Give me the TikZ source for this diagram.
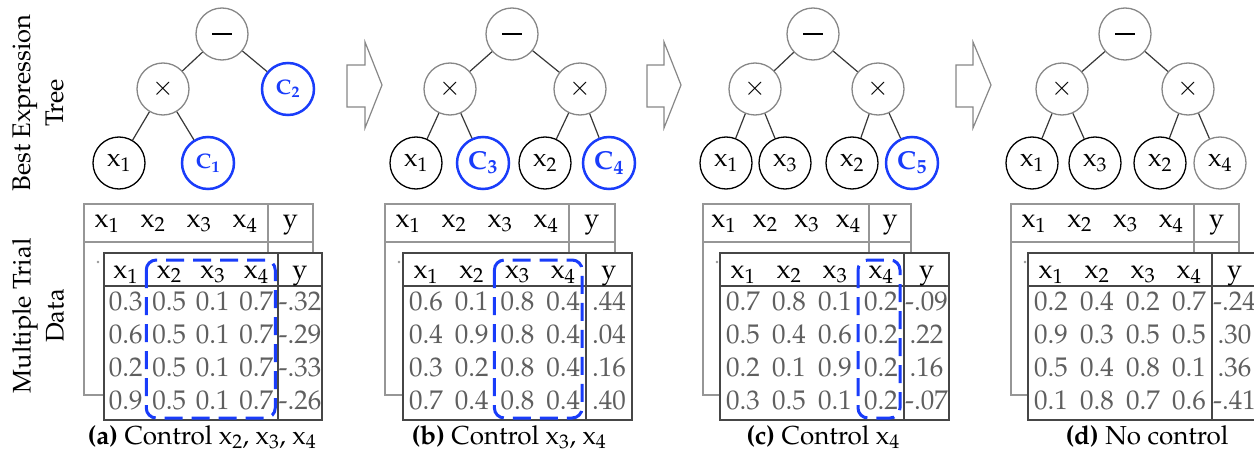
\documentclass[tikz,border=0pt]{standalone}
\usepackage[T1]{fontenc}
\usepackage{mathpazo}
\usepackage{xcolor}

\definecolor{ctrlblue}{RGB}{25,60,250}
\definecolor{opgray}{RGB}{135,135,135}
\definecolor{valgray}{RGB}{95,95,95}
\definecolor{backline}{RGB}{150,150,150}
\definecolor{frontline}{RGB}{70,70,70}
\definecolor{edgecol}{RGB}{55,55,55}

\newcommand\bigfont{\fontsize{26}{30}\selectfont}
\newcommand\cellfont{\fontsize{27}{30}\selectfont}
\newcommand\smallctrl{\fontsize{21}{24}\selectfont}
\newcommand\minusbar{\rule{20pt}{2.6pt}}

\tikzset{
  treenode/.style={circle, minimum size=52pt, inner sep=0pt, line width=1.3pt, font=\bigfont},
  opnode/.style={treenode, draw=opgray},
  varnode/.style={treenode, draw=black},
  greyvar/.style={treenode, draw=opgray},
  ctrlnode/.style={treenode, draw=ctrlblue, line width=2.5pt, text=ctrlblue},
  edge/.style={draw=edgecol, line width=1.2pt},
  hcell/.style={anchor=base, inner sep=0pt, font=\cellfont},
  valcell/.style={hcell, text=valgray},
  backsheet/.style={draw=backline, line width=1.5pt},
  frontsheet/.style={draw=frontline, line width=2pt},
  ctrlbox/.style={draw=ctrlblue, line width=3pt, rounded corners=10pt, dash pattern=on 18pt off 9pt},
  stepshape/.style={draw=opgray, fill=white, line width=1.2pt, line join=miter},
  sidelabel/.style={rotate=90, align=center, font=\fontsize{25.5}{33}\selectfont},
  caption/.style={anchor=base, inner sep=0pt, font=\bigfont},
}

% #1 id, #2-#4 back sheet left/divider/right, #5-#7 front sheet left/divider/right,
% #8 data rows, #9 first/last controlled column (0/0 for none)
\newcommand\trialtable[9]{%
  % back sheet
  \draw[backsheet] (#2,204) rectangle (#4,395);
  \draw[backsheet] (#2,242) -- (#4,242);
  \draw[backsheet] (#3,204) -- (#3,395);
  \fill[backline] (#2+14,262) circle (1.3pt);
  \foreach \k in {1,...,4}{
    \node[hcell] (#1-bh\k) at ({#2+(#3-#2)*(2*\k-1)/8},227) {$\mathrm{x}_{\k}$};
  }
  \node[hcell] (#1-by) at ({(#3+#4)/2},227) {y};
  % front sheet
  \filldraw[frontsheet, fill=white] (#5,253) rectangle (#7,420);
  \draw[frontsheet] (#5,286) -- (#7,286);
  \draw[frontsheet] (#6,253) -- (#6,420);
  \foreach \k in {1,...,4}{
    \node[hcell] (#1-fh\k) at ({#5+(#6-#5)*(2*\k-1)/8},278) {$\mathrm{x}_{\k}$};
  }
  \node[hcell] (#1-fy) at ({(#6+#7)/2},278) {y};
  \foreach \va/\vb/\vc/\vd/\vy [count=\r] in {#8}{
    \pgfmathsetmacro\yb{310+(\r-1)*33.3}
    \foreach \v [count=\k] in {\va,\vb,\vc,\vd}{
      \node[valcell] (#1-r\r c\k) at ({#5+(#6-#5)*(2*\k-1)/8},\yb) {\v};
    }
    \node[valcell] (#1-r\r y) at ({(#6+#7)/2},\yb) {\vy};
  }
  % controlled columns
  \foreach \f/\l in {#9}{
    \ifnum\f>0
      \draw[ctrlbox] ({#5+(#6-#5)*(2*\f-1)/8-23},260) rectangle ({#5+(#6-#5)*(2*\l-1)/8+19},418);
    \fi
  }
}

% block arrow between panels: start of shaft, base of head, tip
\newcommand\stepper[3]{%
  \draw[stepshape] (#1,65) -- (#2,65) -- (#2,42) -- (#3,85) -- (#2,128) -- (#2,107) -- (#1,107) -- cycle;
}

\begin{document}
\begin{tikzpicture}[x=1pt, y=-1pt]
\useasboundingbox (0,0) rectangle (1254,452);

% row labels
\node[sidelabel] (treelabel) at (38,103) {Best Expression\\Tree};
\node[sidelabel] (datalabel) at (38,316) {Multiple Trial\\Data};

% ---------- (a) ----------
\node[opnode] (a-root) at (222,34) {\minusbar};
\node[opnode] (a-mul) at (163,89) {$\times$};
\node[ctrlnode, font=\smallctrl] (a-c2) at (288,89) {$\mathbf{C}_{\mathbf{2}}$};
\node[varnode] (a-x1) at (119,163) {$\mathrm{x}_1$};
\node[ctrlnode, font=\smallctrl] (a-c1) at (208,163) {$\mathbf{C}_{\mathbf{1}}$};
\draw[edge] (a-root) -- (a-mul);
\draw[edge] (a-root) -- (a-c2);
\draw[edge] (a-mul) -- (a-x1);
\draw[edge] (a-mul) -- (a-c1);

\trialtable{a}{84}{268}{313}{104}{278}{322}%
  {0.3/0.5/0.1/0.7/-.32, 0.6/0.5/0.1/0.7/-.29, 0.2/0.5/0.1/0.7/-.33, 0.9/0.5/0.1/0.7/-.26}{2/4}
\node[caption] (a-cap) at (202,444) {\textbf{(a)} Control $\mathrm{x}_2$, $\mathrm{x}_3$, $\mathrm{x}_4$};

\stepper{347}{365}{382}

% ---------- (b) ----------
\node[opnode] (b-root) at (512,34) {\minusbar};
\node[opnode] (b-ml) at (450,89) {$\times$};
\node[opnode] (b-mr) at (580,89) {$\times$};
\node[varnode] (b-x1) at (416,163) {$\mathrm{x}_1$};
\node[ctrlnode] (b-c3) at (483,163) {$\mathbf{C}_{\mathbf{3}}$};
\node[varnode] (b-x2) at (545,163) {$\mathrm{x}_2$};
\node[ctrlnode] (b-c4) at (609,163) {$\mathbf{C}_{\mathbf{4}}$};
\draw[edge] (b-root) -- (b-ml);
\draw[edge] (b-root) -- (b-mr);
\draw[edge] (b-ml) -- (b-x1);
\draw[edge] (b-ml) -- (b-c3);
\draw[edge] (b-mr) -- (b-x2);
\draw[edge] (b-mr) -- (b-c4);

\trialtable{b}{385}{569}{615}{403}{586}{632}%
  {0.6/0.1/0.8/0.4/.44, 0.4/0.9/0.8/0.4/.04, 0.3/0.2/0.8/0.4/.16, 0.7/0.4/0.8/0.4/.40}{3/4}
\node[caption] (b-cap) at (509,444) {\textbf{(b)} Control $\mathrm{x}_3$, $\mathrm{x}_4$};

\stepper{647}{664}{681}

% ---------- (c) ----------
\node[opnode] (c-root) at (813,34) {\minusbar};
\node[opnode] (c-ml) at (755,89) {$\times$};
\node[opnode] (c-mr) at (878,89) {$\times$};
\node[varnode] (c-x1) at (726,163) {$\mathrm{x}_1$};
\node[varnode] (c-x3) at (785,163) {$\mathrm{x}_3$};
\node[varnode] (c-x2) at (852,163) {$\mathrm{x}_2$};
\node[ctrlnode] (c-c5) at (912,163) {$\mathbf{C}_{\mathbf{5}}$};
\draw[edge] (c-root) -- (c-ml);
\draw[edge] (c-root) -- (c-mr);
\draw[edge] (c-ml) -- (c-x1);
\draw[edge] (c-ml) -- (c-x3);
\draw[edge] (c-mr) -- (c-x2);
\draw[edge] (c-mr) -- (c-c5);

\trialtable{c}{703}{869}{911}{720}{904}{949}%
  {0.7/0.8/0.1/0.2/-.09, 0.5/0.4/0.6/0.2/.22, 0.2/0.1/0.9/0.2/.16, 0.3/0.5/0.1/0.2/-.07}{4/4}
\node[caption] (c-cap) at (823,444) {\textbf{(c)} Control $\mathrm{x}_4$};

\stepper{956}{973}{991}

% ---------- (d) ----------
\node[opnode] (d-root) at (1125,34) {\minusbar};
\node[opnode] (d-ml) at (1062,89) {$\times$};
\node[opnode] (d-mr) at (1188,89) {$\times$};
\node[varnode] (d-x1) at (1032,163) {$\mathrm{x}_1$};
\node[varnode] (d-x3) at (1095,163) {$\mathrm{x}_3$};
\node[varnode] (d-x2) at (1160,163) {$\mathrm{x}_2$};
\node[greyvar] (d-x4) at (1220,163) {$\mathrm{x}_4$};
\draw[edge] (d-root) -- (d-ml);
\draw[edge] (d-root) -- (d-mr);
\draw[edge] (d-ml) -- (d-x1);
\draw[edge] (d-ml) -- (d-x3);
\draw[edge] (d-mr) -- (d-x2);
\draw[edge] (d-mr) -- (d-x4);

\trialtable{d}{1011}{1194}{1239}{1028}{1212}{1257}%
  {0.2/0.4/0.2/0.7/-.24, 0.9/0.3/0.5/0.5/.30, 0.5/0.4/0.8/0.1/.36, 0.1/0.8/0.7/0.6/-.41}{0/0}
\node[caption] (d-cap) at (1147,444) {\textbf{(d)} No control};

\end{tikzpicture}
\end{document}
